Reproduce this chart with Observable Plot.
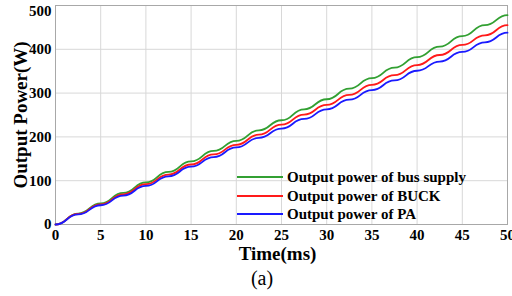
<!DOCTYPE html>
<html>
<head>
<meta charset="utf-8">
<script src="https://cdn.jsdelivr.net/npm/d3@7"></script>
<script src="https://cdn.jsdelivr.net/npm/@observablehq/plot@0.6"></script>
<style>
  html, body { margin: 0; padding: 0; background: #fff; }
  #wrap { position: relative; width: 512px; height: 296px; font-family: "Liberation Serif", "Times New Roman", serif; }
  #chart svg { overflow: visible; }
  #legend { position: absolute; left: 237px; top: 168px; font-weight: bold; font-size: 15px; line-height: 18.5px; }
  #legend .row { display: flex; align-items: center; white-space: nowrap; }
  #legend .sw { width: 46px; height: 2px; margin-right: 4px; }
  #caption { position: absolute; top: 265px; left: 262px; transform: translateX(-50%); font-size: 20px; line-height: 26px; }
</style>
</head>
<body>
<div id="wrap">
  <div id="chart"></div>
  <div id="legend"></div>
  <div id="caption">(a)</div>
</div>
<script>
// Time (ms) at the flat part of each step
const stepTime = [0, 2.5, 5, 7.5, 10, 12.5, 15, 17.5, 20, 22.5, 25, 27.5, 30, 32.5, 35, 37.5, 40, 42.5, 45, 47.5, 50];
// Output power (W) read at each step
const busPower  = [0, 25, 48, 72, 96, 120, 144, 168, 191, 215, 238, 263, 286, 310, 334, 358, 382, 406, 430, 455, 478];
const buckPower = [0, 24, 46, 69, 92, 114, 137, 160, 182, 205, 228, 251, 273, 296, 319, 341, 364, 387, 410, 432, 455];
const paPower   = [0, 23, 44, 66, 88, 110, 132, 154, 176, 198, 219, 241, 263, 285, 307, 329, 351, 372, 394, 416, 438];

const seriesNames = ["Output power of bus supply", "Output power of BUCK", "Output power of PA"];
const seriesColors = ["#32a032", "#ff1a1a", "#1a1aff"];
const xTicks = [0, 5, 10, 15, 20, 25, 30, 35, 40, 45, 50];
const yTicks = [0, 100, 200, 300, 400, 500];

const seriesValues = [busPower, buckPower, paPower];
const rows = [];
seriesValues.forEach((vals, i) => {
  stepTime.forEach((t, j) => rows.push({series: seriesNames[i], t, p: vals[j]}));
});

const yTop = yTicks[yTicks.length - 1];

const chart = Plot.plot({
  width: 512,
  height: 266,
  marginLeft: 55,
  marginRight: 5,
  marginTop: 5,
  marginBottom: 42,
  style: {fontFamily: "Liberation Serif, Times New Roman, serif", fontWeight: "bold", fontSize: "15px", background: "white", color: "#000", overflow: "visible"},
  x: {domain: [0, 50]},
  y: {domain: [0, 500]},
  color: {domain: seriesNames, range: seriesColors},
  marks: [
    Plot.gridX(xTicks, {stroke: "#d8d8d8", strokeOpacity: 1}),
    Plot.gridY(yTicks, {stroke: "#d8d8d8", strokeOpacity: 1}),
    Plot.frame({stroke: "#a8a8a8"}),
    Plot.axisX(xTicks, {tickSize: 0, tickPadding: 5, label: null, tickFormat: d => String(d)}),
    Plot.axisY(yTicks.filter(d => d !== yTop), {tickSize: 0, tickPadding: 4, label: null, tickFormat: d => String(d)}),
    Plot.axisY([yTop], {tickSize: 0, tickPadding: 4, label: null, dy: 6, tickFormat: d => String(d)}),
    Plot.line(rows, {x: "t", y: "p", z: "series", stroke: "series", strokeWidth: 1.8, curve: "bump-x"}),
    Plot.text(["Time(ms)"], {text: d => d, frameAnchor: "bottom", textAnchor: "middle", lineAnchor: "middle", dy: 29, dx: -4, fontSize: 19, fontWeight: "bold"}),
    Plot.text(["Output Power(W)"], {text: d => d, frameAnchor: "left", textAnchor: "middle", lineAnchor: "middle", dx: -35, rotate: -90, fontSize: 19, fontWeight: "bold"})
  ]
});
document.getElementById("chart").appendChild(chart);

const legend = document.getElementById("legend");
seriesNames.forEach((name, i) => {
  const row = document.createElement("div");
  row.className = "row";
  const sw = document.createElement("div");
  sw.className = "sw";
  sw.style.background = seriesColors[i];
  const label = document.createElement("span");
  label.textContent = name;
  row.appendChild(sw);
  row.appendChild(label);
  legend.appendChild(row);
});
</script>
</body>
</html>
